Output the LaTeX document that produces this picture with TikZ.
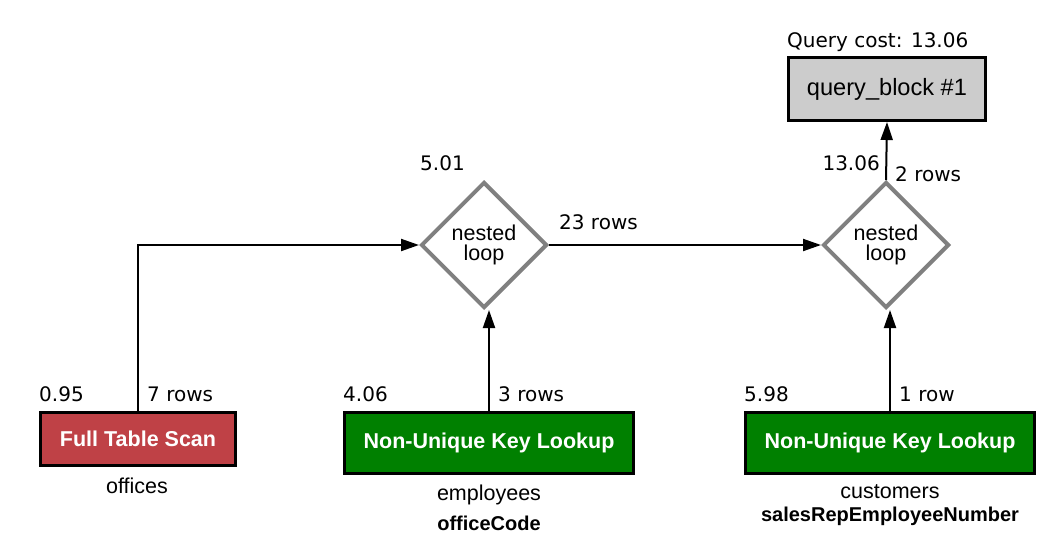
\documentclass[tikz,border=0pt]{standalone}
\usepackage{fontspec}
\setmainfont{Liberation Sans}
\newfontfamily\costfont{DejaVu Sans}
\usetikzlibrary{arrows.meta}
\usetikzlibrary{shapes.geometric}
\definecolor{scanred}{RGB}{191,65,70}
\definecolor{lookupgreen}{RGB}{0,128,0}
\definecolor{blockgray}{RGB}{204,204,204}

\begin{document}
\begin{tikzpicture}[x=1pt, y=-1pt,
  opbox/.style={draw=black, line width=3pt, fill=#1, text=white, inner sep=0, font=\fontsize{21.5}{24}\selectfont\bfseries},
  loopnode/.style={diamond, draw=gray, line width=4pt, minimum width=126pt, minimum height=126pt, inner sep=0, align=center, font=\fontsize{21.5}{20}\selectfont},
  cost/.style={anchor=base west, inner sep=0, font=\costfont\fontsize{20}{24}\selectfont},
  tbl/.style={anchor=base, inner sep=0, font=\fontsize{21.5}{24}\selectfont},
  key/.style={anchor=base, inner sep=0, font=\fontsize{20}{24}\selectfont\bfseries},
  flow/.style={black, line width=2pt, ->, >={Triangle[length=18pt, width=12pt]}}]
\useasboundingbox (0,0) rectangle (1064,552);
% operations
\node[opbox=scanred, minimum width=195pt, minimum height=53pt] (scan) at (138,439) {Full Table Scan};
\node[opbox=lookupgreen, minimum width=289pt, minimum height=61pt] (lookupA) at (489,443) {Non-Unique Key Lookup};
\node[opbox=lookupgreen, minimum width=289pt, minimum height=61pt] (lookupB) at (890,443) {Non-Unique Key Lookup};
\node[loopnode] (loopA) at (484,245) {nested\\loop};
\node[loopnode] (loopB) at (886,245) {nested\\loop};
\node[draw=black, line width=3pt, fill=blockgray, inner sep=0, minimum width=197pt, minimum height=63pt, font=\fontsize{23.6}{26}\selectfont] (qblock) at (887,89) {query\_block \#1};
% costs and rows
\foreach \b/\c/\r in {scan/0.95/7 rows, lookupA/4.06/3 rows, lookupB/5.98/1 row} {
 \node[cost] (cost\b) at ([yshift=10pt]\b.north west) {\c};
 \node[cost] (rows\b) at ([xshift=9pt, yshift=10pt]\b.north) {\r};
}
\node[cost] (costloopA) at (420,170) {5.01};
\node[cost] (rowsloopA) at (559,229) {23 rows};
\node[cost, anchor=base east] (costloopB) at (880,170) {13.06};
\node[cost] (rowsloopB) at (895,181) {2 rows};
\node[cost] (total) at (787,47) {Query cost: 13.06};
% tables
\node[tbl] (tblscan) at (137,493) {offices};
\node[tbl] (tblA) at (489,500) {employees};
\node[key] (keyA) at (489,530) {officeCode};
\node[tbl] (tblB) at (890,498) {customers};
\node[key] (keyB) at (890,521) {salesRepEmployeeNumber};
% connectors
\draw[flow] (scan.north) |- (loopA.west);
\draw[flow] (lookupA.north) -- (lookupA.north |- loopA.south);
\draw[flow] (loopA.east) -- (loopB.west);
\draw[flow] (lookupB.north) -- (lookupB.north |- loopB.south);
\draw[flow] (loopB.north) -- (qblock.south);
\end{tikzpicture}
\end{document}
